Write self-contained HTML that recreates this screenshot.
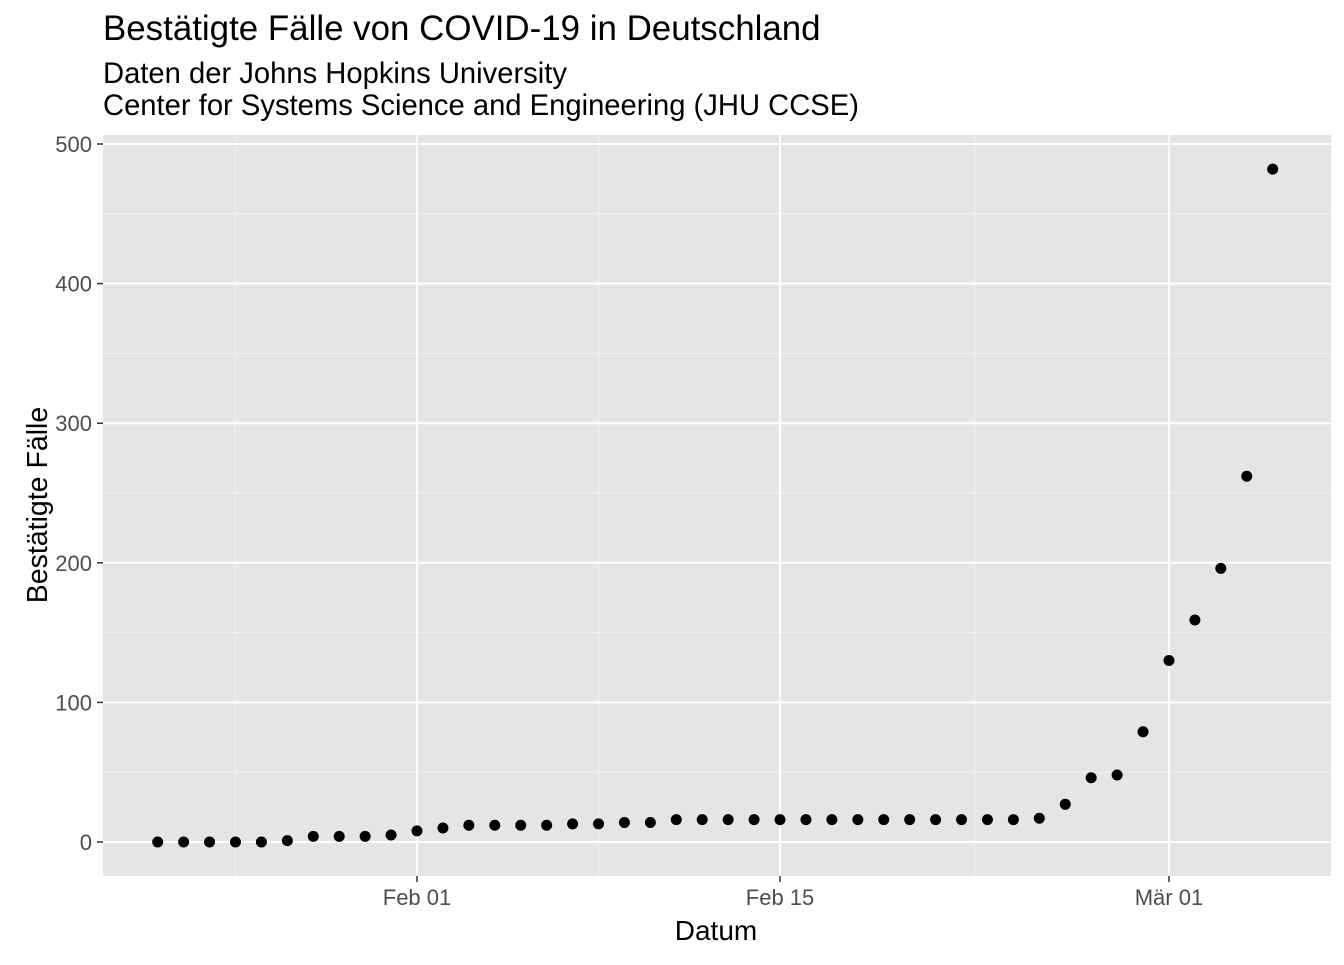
<!DOCTYPE html>
<html><head><meta charset="utf-8"><style>
body{margin:0;background:#fff;}
svg text{font-family:"Liberation Sans",Arial,sans-serif;}
</style></head><body>
<svg id="chart" width="1344" height="960" xmlns="http://www.w3.org/2000/svg">
<text x="103" y="40" font-size="34.9" fill="#000">Bestätigte Fälle von COVID-19 in Deutschland</text>
<text x="103" y="83" font-size="29.2" fill="#000">Daten der Johns Hopkins University</text>
<text x="103" y="115" font-size="29.2" fill="#000">Center for Systems Science and Engineering (JHU CCSE)</text>
<rect x="103" y="135" width="1228" height="741" fill="#e5e5e5"/>
<g id="grid"></g>
<g id="points"></g>
<g id="axes"></g>
<text x="716" y="940" font-size="28" text-anchor="middle">Datum</text>
<text transform="translate(47,505) rotate(-90)" font-size="28.5" text-anchor="middle">Bestätigte Fälle</text>
</svg>
<script>
const values = [0,0,0,0,0,1,4,4,4,5,8,10,12,12,12,12,13,13,14,14,16,16,16,16,16,16,16,16,16,16,16,16,16,16,17,27,46,48,79,130,159,196,262,482];
const startDayOffset = -10; // Jan 22 relative to Feb 01
const yTicks = [0,100,200,300,400,500];
const yMinor = [50,150,250,350,450];
const xTickDays = [0,14,29];
const xTickLabels = ["Feb 01","Feb 15","Mär 01"];
const xMinorDays = [-7,7,21.5];

const NS="http://www.w3.org/2000/svg";
const x = d => 417 + d*25.93;
const y = v => 842 - v*1.396;
const L=103,R=1331,T=135,B=876;
function mk(tag,attrs,parent){const e=document.createElementNS(NS,tag);for(const k in attrs)e.setAttribute(k,attrs[k]);parent.appendChild(e);return e;}
const grid=document.getElementById('grid'),pts=document.getElementById('points'),axes=document.getElementById('axes');
yMinor.forEach(v=>{const l=mk('line',{x1:L,x2:R,y1:y(v),y2:y(v),stroke:'#f2f2f2','stroke-width':1},grid);

});
xMinorDays.forEach(d=>{const l=mk('line',{x1:x(d),x2:x(d),y1:T,y2:B,stroke:'#f2f2f2','stroke-width':1},grid);

});
yTicks.forEach(v=>{const l=mk('line',{x1:L,x2:R,y1:y(v),y2:y(v),stroke:'#fff','stroke-width':2},grid);


const t=mk('line',{x1:L-6,x2:L,y1:y(v),y2:y(v),stroke:'#333','stroke-width':1.5},axes);


const tx=mk('text',{x:L-11,y:y(v)+8,'font-size':22,'text-anchor':'end',fill:'#4d4d4d'},axes);tx.textContent=v;

});
xTickDays.forEach((d,i)=>{const l=mk('line',{x1:x(d),x2:x(d),y1:T,y2:B,stroke:'#fff','stroke-width':2},grid);


const t=mk('line',{x1:x(d),x2:x(d),y1:B,y2:B+6,stroke:'#333','stroke-width':1.5},axes);


const tx=mk('text',{x:x(d),y:B+29,'font-size':22,'text-anchor':'middle',fill:'#4d4d4d'},axes);tx.textContent=xTickLabels[i];

});
values.forEach((v,i)=>{const c=mk('circle',{cx:x(startDayOffset+i),cy:y(v),r:5.5,fill:'#000'},pts);

});
</script>
</body></html>
